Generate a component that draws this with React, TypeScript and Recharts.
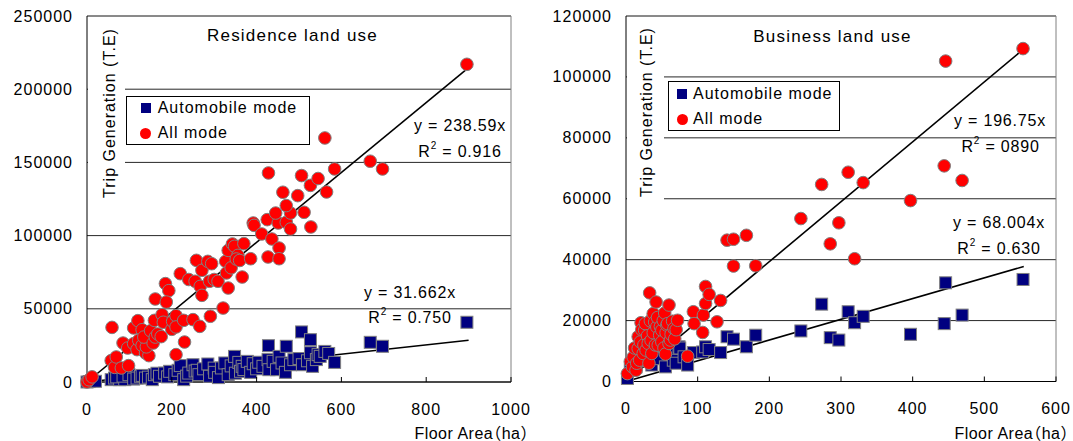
import { ScatterChart, Scatter, XAxis, YAxis, CartesianGrid, ReferenceLine } from 'recharts';

const FONT = '"Liberation Sans", Arial, sans-serif';
const FONT_CJK = '"Liberation Sans", "Noto Sans CJK JP", sans-serif';

// residence land use
const resXTicks = [0, 200, 400, 600, 800, 1000];
const resYTicks = [0, 50000, 100000, 150000, 200000, 250000];
const resAuto: [number, number][] = [
  [0, 0], [5, 300], [20, 500], [57, 1600], [65, 2700], [77, 1600], [70, 3500], [89, 1600], [85, 4000],
  [99, 5000], [110, 2000], [118, 2700], [126, 3900], [130, 4500], [138, 2700], [145, 3300], [154, 1600],
  [159, 5000], [165, 6000], [171, 3900], [183, 6100], [190, 3500], [195, 7300], [207, 5000], [215, 8000],
  [220, 11200], [228, 1600], [235, 4000], [240, 6100], [250, 11800], [255, 7500], [260, 8000], [264, 5000],
  [275, 9000], [285, 12300], [289, 3900], [300, 9500], [301, 6600], [310, 3000], [317, 9600], [325, 13000],
  [333, 5000], [340, 11000], [348, 17500], [350, 6000], [358, 13400], [362, 7300], [366, 10700], [370, 8500],
  [378, 14100], [386, 6600], [392, 12500], [400, 9000], [405, 13500], [415, 10700], [427, 15300], [428, 24800],
  [429, 8400], [439, 14100], [447, 8400], [453, 17500], [460, 13000], [468, 6600], [470, 24400], [480, 11800],
  [488, 15300], [500, 16000], [506, 34200], [508, 11800], [520, 14500], [527, 28900], [527, 20000], [532, 10700],
  [541, 15300], [545, 18700], [550, 17500], [561, 20900], [570, 19500], [584, 13400], [668, 27100], [697, 24400],
  [896, 40800],
];
const resAll: [number, number][] = [
  [0, 0], [5, 1500], [12, 3500], [57, 14600], [65, 10000], [69, 17100], [81, 9600], [98, 11200], [59, 37300],
  [85, 26600], [96, 23200], [110, 26200], [118, 22100], [122, 28500], [130, 25000], [138, 19800], [146, 18000],
  [140, 24000], [110, 36900], [120, 41900], [130, 35700], [134, 30700], [150, 35000], [156, 26600], [161, 30700],
  [167, 32800], [175, 31000], [159, 42100], [161, 56700], [177, 46000], [180, 40800], [185, 67200], [193, 62400],
  [187, 54600], [200, 36000], [202, 41400], [210, 45300], [210, 37600], [228, 42100], [230, 27300], [210, 18700],
  [220, 74000], [240, 70000], [250, 42600], [266, 38000], [291, 44900], [258, 83100], [271, 76300], [255, 68800],
  [267, 65300], [271, 59200], [289, 68800], [285, 82400], [294, 80800], [300, 70000], [309, 68800], [321, 50500],
  [327, 82400], [329, 74500], [333, 64200], [340, 78000], [333, 89900], [343, 94300], [348, 92700], [356, 86500],
  [352, 84000], [360, 83000], [366, 71700], [370, 94500], [386, 84200], [392, 108600], [394, 107000],
  [412, 101100], [425, 110900], [427, 85400], [436, 97700], [453, 91500], [453, 84200], [451, 108600],
  [470, 109100], [480, 104500], [445, 115400], [480, 115400], [470, 120500], [462, 129600], [497, 127300],
  [512, 115900], [528, 105900], [428, 142800], [506, 141000], [527, 134300], [545, 139000], [565, 129800],
  [584, 145500], [561, 166700], [668, 150800], [697, 145500], [896, 217000],
];
const resSlopes = [31.662, 238.59];
const resFitEnd = 900;

// business land use
const bizXTicks = [0, 100, 200, 300, 400, 500, 600];
const bizYTicks = [0, 20000, 40000, 60000, 80000, 100000, 120000];
const bizAuto: [number, number][] = [
  [2, 1000], [6, 3700], [14, 4800], [20, 10000], [24, 7000], [28, 8100], [30, 14000], [35, 9000], [36, 5400],
  [38, 20100], [40, 17000], [43, 10300], [45, 21000], [47, 7500], [50, 15000], [55, 4800], [59, 13600],
  [60, 10000], [65, 16000], [66, 7000], [70, 6000], [74, 11400], [75, 11000], [81, 8100], [86, 5400],
  [94, 9500], [107, 9700], [111, 11400], [116, 10500], [132, 9500], [141, 14700], [150, 13900], [168, 11400],
  [181, 15200], [244, 16600], [273, 25400], [285, 14400], [297, 13600], [310, 22900], [319, 19300],
  [331, 21400], [397, 15500], [444, 19000], [446, 32400], [469, 21800], [554, 33500],
];
const bizAll: [number, number][] = [
  [2, 2600], [6, 6500], [9, 4800], [10, 8000], [12, 11000], [14, 3700], [15, 6000], [17, 14700], [17, 10800],
  [19, 7000], [20, 13000], [21, 19300], [22, 17000], [24, 9200], [25, 12000], [26, 16800], [27, 19000],
  [28, 10300], [30, 15000], [31, 12500], [32, 6000], [33, 29100], [34, 19900], [35, 13500], [36, 9200],
  [38, 22300], [38, 16000], [40, 19500], [41, 12000], [42, 26100], [43, 17900], [44, 21000], [45, 11900],
  [47, 15200], [48, 18000], [50, 16800], [50, 13000], [52, 20000], [53, 11000], [54, 22500], [55, 9000],
  [56, 16000], [57, 18500], [58, 19000], [60, 25100], [60, 12500], [62, 13600], [63, 15500], [65, 19800],
  [67, 17400], [68, 14000], [70, 17000], [72, 20100], [86, 8300], [94, 22900], [95, 19000], [107, 16100],
  [108, 21800], [111, 25600], [111, 31200], [116, 28600], [127, 19600], [132, 26600], [141, 46400],
  [150, 46700], [150, 37900], [168, 48000], [181, 38000], [244, 53500], [273, 64700], [285, 45200],
  [297, 52100], [310, 68700], [319, 40300], [331, 65300], [397, 59400], [444, 70800], [446, 105200],
  [469, 66000], [554, 109300],
];
const bizSlopes = [68.004, 196.75];
const bizFitEnd = 555;

const toPts = (a: [number, number][]) => a.map(([x, y]) => ({ x, y }));

const Circle = (p: any) => (
  <circle cx={p.cx} cy={p.cy} r={6.3} fill="#ff0000" stroke="#808080" strokeWidth={1} />
);
const Square = (p: any) => (
  <rect x={p.cx - 6} y={p.cy - 6} width={12} height={12} fill="#000080" stroke="#808080" strokeWidth={1} />
);

const XTick = (p: any) => (
  <g>
    {p.payload.value !== 0 && <line x1={p.x} x2={p.x} y1={p.y} y2={p.y - 5} stroke="#000" />}
    <text x={p.x} y={p.y + 27} textAnchor="middle" dominantBaseline="central" fontSize={16}
      letterSpacing={1} fill="#000" fontFamily={FONT}>{p.payload.value}</text>
  </g>
);
const YTick = (p: any) => (
  <text x={p.x - 14} y={p.y} textAnchor="end" dominantBaseline="central" fontSize={16}
    letterSpacing={1} fill="#000" fontFamily={FONT}>{p.payload.value}</text>
);

function Txt({ x, y, size = 16, ls = 1, children }: any) {
  return (
    <div style={{
      position: 'absolute', left: x, top: y, transform: 'translate(-50%, -50%)', whiteSpace: 'nowrap',
      fontFamily: FONT, fontSize: size, letterSpacing: ls, color: '#000', lineHeight: 1,
    }}>{children}</div>
  );
}

function R2({ v }: { v: string }) {
  return <span>R<sup style={{ fontSize: 10, verticalAlign: 'top', position: 'relative', top: -3 }}>2</sup> = {v}</span>;
}

function Panel({ left, width, margin, xMax, yMax, xTicks, yTicks, auto, all, slopes, fitEnd }: any) {
  return (
    <div style={{ position: 'absolute', left, top: 0 }}>
      <ScatterChart width={width} height={441} margin={margin}>
        <CartesianGrid horizontal vertical={false} stroke="#000" strokeOpacity={0.85} />
        <XAxis type="number" dataKey="x" domain={[0, xMax]} ticks={xTicks} interval={0}
          axisLine={{ stroke: '#000' }} tickLine={false} tickSize={0} tickMargin={0} tick={<XTick />} height={30} />
        <YAxis type="number" dataKey="y" domain={[0, yMax]} ticks={yTicks} interval={0}
          axisLine={{ stroke: '#000' }} tickLine={false} tickSize={0} tickMargin={0} tick={<YTick />} width={60} />
        <ReferenceLine y={yMax} stroke="#808080" />
        <ReferenceLine x={xMax} stroke="#808080" />
        <Scatter name="Automobile mode" data={toPts(auto)} shape={Square} isAnimationActive={false} />
        <Scatter name="All mode" data={toPts(all)} shape={Circle} isAnimationActive={false} />
        {slopes.map((s: number, i: number) => (
          <ReferenceLine key={i} segment={[{ x: 0, y: 0 }, { x: fitEnd, y: fitEnd * s }]} stroke="#000" strokeWidth={1.6} />
        ))}
      </ScatterChart>
    </div>
  );
}

function Legend({ x, y, w, h, mx, tx, r1, r2 }: any) {
  return (
    <>
      <div style={{ position: 'absolute', left: x, top: y, width: w, height: h, border: '1px solid #000', background: '#fff', boxSizing: 'border-box' }} />
      <div style={{ position: 'absolute', left: mx - 5, top: r1 - 5, width: 10, height: 10, background: '#000080' }} />
      <div style={{ position: 'absolute', left: mx - 5.5, top: r2 - 5.5, width: 11, height: 11, borderRadius: '50%', background: '#ff0000' }} />
      <div style={{ position: 'absolute', left: tx, top: r1, transform: 'translateY(-50%)', fontFamily: FONT, fontSize: 16, letterSpacing: 1, lineHeight: 1, whiteSpace: 'nowrap' }}>Automobile mode</div>
      <div style={{ position: 'absolute', left: tx, top: r2, transform: 'translateY(-50%)', fontFamily: FONT, fontSize: 16, letterSpacing: 1, lineHeight: 1, whiteSpace: 'nowrap' }}>All mode</div>
    </>
  );
}

function YTitle({ x, cx, cy }: any) {
  return (
    <>
      <div style={{ position: 'absolute', left: x + 1, top: 17, width: 37, height: 188, background: '#fff' }} />
      <div style={{
        position: 'absolute', left: cx, top: cy, transform: 'translate(-50%, -50%) rotate(-90deg)',
        fontFamily: FONT, fontSize: 16, letterSpacing: 1, whiteSpace: 'nowrap', lineHeight: 1,
      }}>Trip Generation (T.E)</div>
    </>
  );
}

function XTitle({ right, y }: any) {
  return (
    <div style={{
      position: 'absolute', left: right - 200, width: 200, top: y, transform: 'translateY(-50%)', textAlign: 'right',
      fontFamily: FONT_CJK, fontSize: 16, letterSpacing: 0.5, whiteSpace: 'nowrap', lineHeight: 1.2,
      fontFeatureSettings: '"halt" 1',
    }}>Floor Area（ha）</div>
  );
}

export default function App() {
  return (
    <div style={{ position: 'absolute', left: 0, top: 0, width: 1073, height: 441, background: '#fff', overflow: 'hidden' }}>
      <Panel left={0} width={540} margin={{ top: 16, right: 29, left: 27, bottom: 29 }} xMax={1000} yMax={250000}
        xTicks={resXTicks} yTicks={resYTicks} auto={resAuto} all={resAll} slopes={resSlopes} fitEnd={resFitEnd} />
      <Panel left={540} width={533} margin={{ top: 16, right: 17, left: 26, bottom: 29.5 }} xMax={600} yMax={120000}
        xTicks={bizXTicks} yTicks={bizYTicks} auto={bizAuto} all={bizAll} slopes={bizSlopes} fitEnd={bizFitEnd} />

      <YTitle x={87} cx={109.5} cy={113} />
      <YTitle x={626} cx={647} cy={112} />

      <Txt x={292.5} y={34.5} size={17} ls={1.2}>Residence land use</Txt>
      <Txt x={832.5} y={35.7} size={17} ls={1.2}>Business land use</Txt>

      <Legend x={126} y={96} w={184} h={49} mx={145.6} tx={157.7} r1={108} r2={133} />
      <Legend x={668} y={81} w={172} h={50} mx={682} tx={693} r1={94} r2={119} />

      <Txt x={460} y={126} ls={0.8}>y = 238.59x</Txt>
      <Txt x={460} y={152} ls={0.8}><R2 v="0.916" /></Txt>
      <Txt x={410} y={293} ls={0.8}>y = 31.662x</Txt>
      <Txt x={410} y={318} ls={0.8}><R2 v="0.750" /></Txt>

      <Txt x={1000} y={121} ls={0.8}>y = 196.75x</Txt>
      <Txt x={1000.5} y={147} ls={0.8}><R2 v="0890" /></Txt>
      <Txt x={999} y={223} ls={0.8}>y = 68.004x</Txt>
      <Txt x={999} y={249} ls={0.8}><R2 v="0.630" /></Txt>

      <XTitle right={529} y={434} />
      <XTitle right={1069} y={434} />
    </div>
  );
}
